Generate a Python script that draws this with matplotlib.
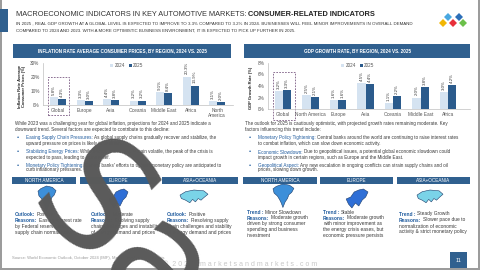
import matplotlib
matplotlib.use('Agg')
import matplotlib.pyplot as plt
import matplotlib.patches as mpatches
from matplotlib.transforms import blended_transform_factory
import numpy as np

W, H = 480, 270
plt.rcParams['font.family'] = ['Liberation Sans', 'DejaVu Sans']

# ---------------- data ----------------
years = ["2024", "2025"]
infl_regions = ["Global", "Europe", "Asia", "Oceania", "Middle East", "Africa", "North\nAmerica"]
infl_2024 = [5.8, 3.3, 4.4, 3.2, 9.1, 20.3, 3.1]
infl_2025 = [4.3, 3.0, 3.8, 3.2, 8.4, 13.9, 2.0]
infl_yticks = [0, 10, 20, 30]

gdp_regions = ["Global", "North America", "Europe", "Asia", "Oceania", "Middle East", "Africa"]
gdp_2024 = [3.2, 2.5, 1.6, 4.5, 1.1, 2.0, 3.0]
gdp_2025 = [3.3, 2.1, 1.6, 4.4, 2.2, 3.8, 4.2]
gdp_yticks = [0, 2, 4, 6, 8]

C_LIGHT = '#d5e3f1'
C_DARK = '#2b5b8c'
C_HEAD = '#30608f'
C_BLUE_TXT = '#1f5b9e'
C_TXT = '#3a3a3a'

fig = plt.figure(figsize=(4.8, 2.7), dpi=100)
fig.patch.set_facecolor('white')
renderer = fig.canvas.get_renderer()


def fx(x):
    return x / W


def fy(y):
    return 1 - y / H


def txt(x, y, s, size, color=C_TXT, weight='normal', ha='left', va='center', **kw):
    return fig.text(fx(x), fy(y), s, fontsize=size, color=color, fontweight=weight,
                    ha=ha, va=va, **kw)


def width_px(t):
    return t.get_window_extent(renderer=renderer).width


def fit(t, target):
    w = width_px(t)
    t.set_fontsize(t.get_fontsize() * target / w)
    return t


def rich(x, y, parts, size):
    for s, color, weight in parts:
        t = txt(x, y, s, size, color, weight)
        x += width_px(t) + size * 0.3 * 100 / 72


def rect(x0, y0, x1, y1, color, **kw):
    p = mpatches.Rectangle((x0 / W, 1 - y1 / H), (x1 - x0) / W, (y1 - y0) / H,
                           transform=fig.transFigure, facecolor=color,
                           edgecolor=kw.pop('edgecolor', 'none'), **kw)
    fig.add_artist(p)
    return p


def poly(pts, box, color, edge='#1c3d6b'):
    x0, y0, x1, y1 = box
    xy = [((x0 + px_ * (x1 - x0)) / W, 1 - (y0 + py_ * (y1 - y0)) / H) for px_, py_ in pts]
    fig.add_artist(mpatches.Polygon(xy, closed=True, transform=fig.transFigure,
                                    facecolor=color, edgecolor=edge, linewidth=0.4))


# ---------------- frame ----------------
rect(0, 0, 1.5, 270, '#9c9c9c')
rect(477.5, 0, 480, 270, '#9c9c9c')
rect(0, 268, 480, 270, '#9c9c9c')
rect(0, 9, 8, 32, C_HEAD)

# title
t1 = txt(16, 14, "MACROECONOMIC INDICATORS IN KEY AUTOMOTIVE MARKETS: ", 6, '#333333')
t2 = txt(0, 14, "CONSUMER-RELATED INDICATORS", 6, '#222222', 'bold')
tot = width_px(t1) + width_px(t2)
sc = (377 - 16) / tot
t1.set_fontsize(6 * sc)
t2.set_fontsize(6 * sc)
t2.set_x(fx(16 + width_px(t1)))

s1 = txt(16, 24, "IN 2025 , REAL GDP GROWTH AT A GLOBAL LEVEL IS EXPECTED TO IMPROVE TO 3.3% COMPARED TO 3.2% IN 2024. "
         "BUSINESSES WILL FEEL MINOR IMPROVEMENTS IN OVERALL DEMAND", 4, '#333333')
fit(s1, 415 - 16)
s2 = txt(16, 31, "COMPARED TO 2024 AND 2023. WITH A MORE OPTIMISTIC BUSINESS ENVIRONMENT, IT IS EXPECTED TO PICK UP FURTHER IN 2025.",
         s1.get_fontsize(), '#333333')

# logo
for (cx, cy, col) in [(448, 17, '#4aa8e0'), (459, 17, '#2d6fb8'), (443, 23, '#f2b705'),
                      (453, 23, '#e8303a'), (463, 23, '#6cc04a')]:
    d = 4
    fig.add_artist(mpatches.Polygon([(fx(cx), fy(cy - d)), (fx(cx + d), fy(cy)),
                                     (fx(cx), fy(cy + d)), (fx(cx - d), fy(cy))],
                                    closed=True, transform=fig.transFigure,
                                    facecolor=col, edgecolor='none'))

# panel headers
rect(13, 44, 231, 58, C_HEAD)
h1 = txt(122, 51, "INFLATION RATE AVERAGE CONSUMER PRICES, BY REGION, 2024 VS. 2025", 4, 'white', 'bold', ha='center')
fit(h1, 168)
rect(244, 44, 470, 58, C_HEAD)
h2 = txt(357, 51, "GDP GROWTH RATE, BY REGION, 2024 VS. 2025", h1.get_fontsize(), 'white', 'bold', ha='center')


# ---------------- charts ----------------
def bar_chart(box, regions, v24, v25, yticks, xlim, leg_anchor, box_top):
    x0, y0, x1, y1 = box
    ax = fig.add_axes([x0 / W, 1 - y1 / H, (x1 - x0) / W, (y1 - y0) / H])
    idx = np.arange(len(regions))
    bw = 0.3
    b1 = ax.bar(idx - bw / 2, v24, bw, color=C_LIGHT, label=years[0])
    b2 = ax.bar(idx + bw / 2, v25, bw, color=C_DARK, label=years[1])
    for bars, vals in ((b1, v24), (b2, v25)):
        for b, v in zip(bars, vals):
            ax.annotate(f"{v:.1f}%", (b.get_x() + b.get_width() / 2, v), xytext=(0, 1.5),
                        textcoords='offset points', rotation=90, ha='center', va='bottom',
                        fontsize=3.2, color=C_TXT)
    ax.set_xlim(*xlim)
    ax.set_ylim(yticks[0], yticks[-1])
    ax.set_yticks(yticks)
    ax.set_yticklabels([f"{t}%" for t in yticks])
    ax.set_xticks(idx)
    ax.set_xticklabels(regions, linespacing=1.0)
    ax.tick_params(length=0, labelsize=3.4, colors='#555555', pad=2.5)
    for s in ('top', 'right'):
        ax.spines[s].set_visible(False)
    for s in ('left', 'bottom'):
        ax.spines[s].set_color('#bfbfbf')
        ax.spines[s].set_linewidth(0.5)
    ax.patch.set_alpha(0)
    tr = blended_transform_factory(ax.transData, ax.transAxes)
    ax.add_patch(mpatches.Rectangle((-0.37, -0.24), 0.79, box_top + 0.24, transform=tr,
                                    fill=False, edgecolor='#7a5a82', linestyle=(0, (2, 1.5)),
                                    linewidth=0.6, clip_on=False))
    ax.legend(loc='center left', bbox_to_anchor=leg_anchor, ncol=2, fontsize=3.3,
              frameon=False, handlelength=0.7, handleheight=0.7, columnspacing=0.8,
              handletextpad=0.3, borderpad=0)
    for t in ax.get_legend().get_texts():
        t.set_color('#555555')
    return ax


bar_chart((43, 63, 233, 105), infl_regions, infl_2024, infl_2025, infl_yticks,
          (-0.57, 6.6), (0.34, 0.93), 0.67)
txt(22, 86, "Inflation Rate Average\nConsumer Prices (%)", 3.0, '#222222', 'bold',
    ha='center', rotation=90, linespacing=1.1)

bar_chart((268, 63, 470, 109), gdp_regions, gdp_2024, gdp_2025, gdp_yticks,
          (-0.55, 6.8), (0.35, 0.95), 0.80)
txt(251, 88, "GDP Growth Rate (%)", 3.0, '#222222', 'bold', ha='center', rotation=90)

# ---------------- body text ----------------
FS = 3.3
BL = C_BLUE_TXT
txt(15, 124, "While 2023 was a challenging year for global inflation, projections for 2024 and 2025 indicate a", FS)
txt(15, 129, "downward trend. Several factors are expected to contribute to this decline:", FS)
left_bul = [
    (138, "Easing Supply Chain Pressures:", "As global supply chains gradually recover and stabilize, the",
     "upward pressure on prices is likely to diminish."),
    (152, "Stabilizing Energy Prices:", "While energy prices may remain volatile, the peak of the crisis is",
     "expected to pass, leading to some relief."),
    (165, "Monetary Policy Tightening:", "Central banks' efforts to tighten monetary policy are anticipated to",
     "curb inflationary pressures."),
]
for y, head, rest, line2 in left_bul:
    txt(17, y, "•", FS + 1, BL)
    rich(26, y, [(head, BL, 'normal'), (rest, C_TXT, 'normal')], FS)
    txt(26, y + 5, line2, FS)

txt(245, 124, "The outlook for 2025 is cautiously optimistic, with projected growth rates remaining moderate. Key", FS)
txt(245, 129, "factors influencing this trend include:", FS)
right_bul = [
    (138, "Monetary Policy Tightening:", "Central banks around the world are continuing to raise interest rates",
     "to combat inflation, which can slow down economic activity."),
    (152, "Economic Slowdown:", "Due to geopolitical issues, a potential global economic slowdown could",
     "impact growth in certain regions, such as Europe and the Middle East."),
    (165, "Geopolitical Aspect:", "Any new escalation in ongoing conflicts can strain supply chains and oil",
     "prices, slowing down growth."),
]
for y, head, rest, line2 in right_bul:
    txt(249, y, "•", FS + 1, BL)
    rich(258, y, [(head, BL, 'normal'), (rest, C_TXT, 'normal')], FS)
    txt(258, y + 5, line2, FS)

# ---------------- region boxes ----------------
NA_SHAPE = [(0.15, 0.1), (0.45, 0.0), (0.75, 0.05), (0.95, 0.18), (0.85, 0.35), (0.72, 0.45),
            (0.66, 0.6), (0.55, 0.75), (0.45, 0.98), (0.38, 0.8), (0.3, 0.65), (0.2, 0.5),
            (0.05, 0.38), (0.0, 0.2)]
EU_SHAPE = [(0.05, 0.55), (0.25, 0.45), (0.4, 0.2), (0.6, 0.1), (0.8, 0.05), (1.0, 0.2),
            (0.9, 0.45), (0.75, 0.6), (0.6, 0.9), (0.45, 0.75), (0.3, 1.0), (0.15, 0.8)]
AS_SHAPE = [(0.0, 0.3), (0.2, 0.1), (0.5, 0.0), (0.85, 0.05), (1.0, 0.25), (0.85, 0.45),
            (0.75, 0.6), (0.65, 0.5), (0.55, 0.7), (0.45, 0.55), (0.35, 0.75), (0.2, 0.6),
            (0.05, 0.5)]

RS = 3.5
left_cols = [
    ((12, 76), 15, "NORTH AMERICA", NA_SHAPE, (38, 186, 57, 212), '#3d8fd9',
     [("Outlook:", "Positive"), ("Reasons:", "Easing interest rate")],
     ["by Federal reserve and", "supply chain normalization"]),
    ((80, 157), 91, "EUROPE", EU_SHAPE, (108, 188, 128, 208), '#2f6fd6',
     [("Outlook:", "Moderate"), ("Reasons:", "Evolving supply")],
     ["chain challenges and instability", "of energy demand and prices"]),
    ((162, 238), 167, "ASIA+OCEANIA", AS_SHAPE, (180, 190, 208, 207), '#7ad3e8',
     [("Outlook:", "Positive"), ("Reasons:", "Resolving supply")],
     ["chain challenges and stability", "of energy demand and prices"]),
]
for (bx0, bx1), tx, title, shape, mbox, mcol, heads, lines in left_cols:
    rect(bx0, 177, bx1, 184, C_HEAD)
    txt((bx0 + bx1) / 2, 180.5, title, 3.3, 'white', ha='center')
    poly(shape, mbox, mcol)
    rich(tx, 214, [(heads[0][0], BL, 'bold'), (heads[0][1], C_TXT, 'normal')], RS)
    rich(tx, 220.5, [(heads[1][0], BL, 'bold'), (heads[1][1], C_TXT, 'normal')], RS)
    for i, ln in enumerate(lines):
        txt(tx, 226.5 + 5.8 * i, ln, RS)

right_cols = [
    ((243, 317), 247, "NORTH AMERICA", NA_SHAPE, (273, 184, 295, 208), '#3d8fd9', 212,
     [("Trend :", "Minor Slowdown"), ("Reasons:", "Moderate growth")],
     ["driven by strong consumer", "spending and business", "investment"]),
    ((320, 393), 323, "EUROPE", EU_SHAPE, (345, 188, 368, 208), '#2f6fd6', 212,
     [("Trend :", "Stable"), ("Reasons:", "Moderate growth")],
     ["with minor improvement as", "the energy crisis eases, but", "economic pressure persists"]),
    ((397, 470), 399, "ASIA+OCEANIA", AS_SHAPE, (417, 190, 443, 207), '#7ad3e8', 214,
     [("Trend :", "Steady Growth"), ("Reasons:", "Slower pace due to")],
     ["normalization of economic", "activity & strict monetary policy"]),
]
for (bx0, bx1), tx, title, shape, mbox, mcol, ty, heads, lines in right_cols:
    rect(bx0, 177, bx1, 184, C_HEAD)
    txt((bx0 + bx1) / 2, 180.5, title, 3.3, 'white', ha='center')
    poly(shape, mbox, mcol)
    rich(tx, ty, [(heads[0][0], BL, 'bold'), (heads[0][1], C_TXT, 'normal')], RS)
    rich(tx, ty + 6, [(heads[1][0], BL, 'bold'), (heads[1][1], C_TXT, 'normal')], RS)
    for i, ln in enumerate(lines):
        txt(tx, ty + 12 + 5.8 * i, ln, RS)

# ---------------- footer ----------------
txt(12, 258, "Source: World Economic Outlook, October 2024 (IMF), MarketsandMarkets Analysis", 3.0, '#9a9a9a')
rect(0, 261.5, 450, 262, '#e3e3e3')
ft = txt(240, 264.5, "©  2 0 2 4   m a r k e t s a n d m a r k e t s . c o m", 4, '#c8c8c8', ha='center')
fit(ft, 150)
rect(450, 252, 467, 268, C_HEAD)
txt(458.5, 260, "11", 4, 'white', ha='center')

# ---------------- watermark ----------------
fig.text(fx(24), fy(205), "Sample", fontsize=110, rotation=-45,
         rotation_mode='anchor', ha='left', va='baseline', color='#5a5a5a',
         family='DejaVu Sans', zorder=100)

fig.savefig('out.png', dpi=100)
